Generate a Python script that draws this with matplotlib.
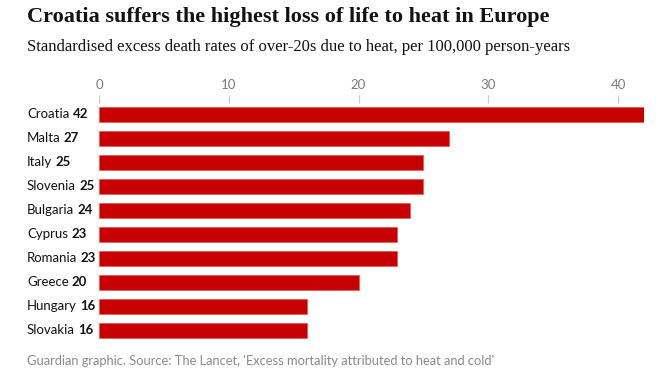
import matplotlib
matplotlib.use("Agg")
import matplotlib.pyplot as plt

countries = ["Croatia", "Malta", "Italy", "Slovenia", "Bulgaria", "Cyprus",
             "Romania", "Greece", "Hungary", "Slovakia"]
values = [42, 27, 25, 25, 24, 23, 23, 20, 16, 16]
xticks = [0, 10, 20, 30, 40]

W, H = 662, 379
fig = plt.figure(figsize=(W / 100, H / 100), dpi=100)
fig.patch.set_facecolor("white")

left, right = 99, 644
top, bottom = 102.5, 342.5
ax = fig.add_axes([left / W, 1 - bottom / H, (right - left) / W, (bottom - top) / H])

ypos = list(range(len(countries)))
ax.barh(ypos, values, height=0.63, color="#c70000", edgecolor="#d9534f", linewidth=0.4)
ax.set_xlim(0, 42)
ax.set_ylim(len(countries) - 0.5, -0.5)

ax.xaxis.tick_top()
ax.set_xticks(xticks)
ax.set_xticklabels([str(t) for t in xticks])
ax.tick_params(axis="x", colors="#c8c8c8", length=5.5, width=0.8, pad=3, labelsize=9.5,
               labelcolor="#7a7a7a")
for lab in ax.get_xticklabels():
    lab.set_fontfamily("Lato")
ax.set_yticks([])
for s in ax.spines.values():
    s.set_visible(False)

# Row labels: country name regular, value bold
for i, (c, v) in enumerate(zip(countries, values)):
    y_fig = 1 - (114.5 + 24 * i) / H
    t = fig.text(27 / W, y_fig, c, fontsize=9.5, family="Lato", color="#121212",
                 ha="left", va="center")
    ax.annotate(str(v), xy=(1, 0.5), xycoords=t, xytext=(2.2, 0), textcoords="offset points",
                fontsize=9.5, family="Lato", fontweight="bold", color="#121212",
                ha="left", va="center", annotation_clip=False)

fig.text(27 / W, 1 - 17 / H, "Croatia suffers the highest loss of life to heat in Europe",
         fontsize=16, family="Liberation Serif", fontweight="bold", color="#121212",
         ha="left", va="center")
fig.text(27 / W, 1 - 47 / H,
         "Standardised excess death rates of over-20s due to heat, per 100,000 person-years",
         fontsize=12, family="Liberation Serif", color="#121212", ha="left", va="center")
fig.text(27 / W, 1 - 361 / H,
         "Guardian graphic. Source: The Lancet, 'Excess mortality attributed to heat and cold'",
         fontsize=9.3, family="Lato", color="#8a8a8a", ha="left", va="center")

fig.savefig("out.png", dpi=100, facecolor="white")
